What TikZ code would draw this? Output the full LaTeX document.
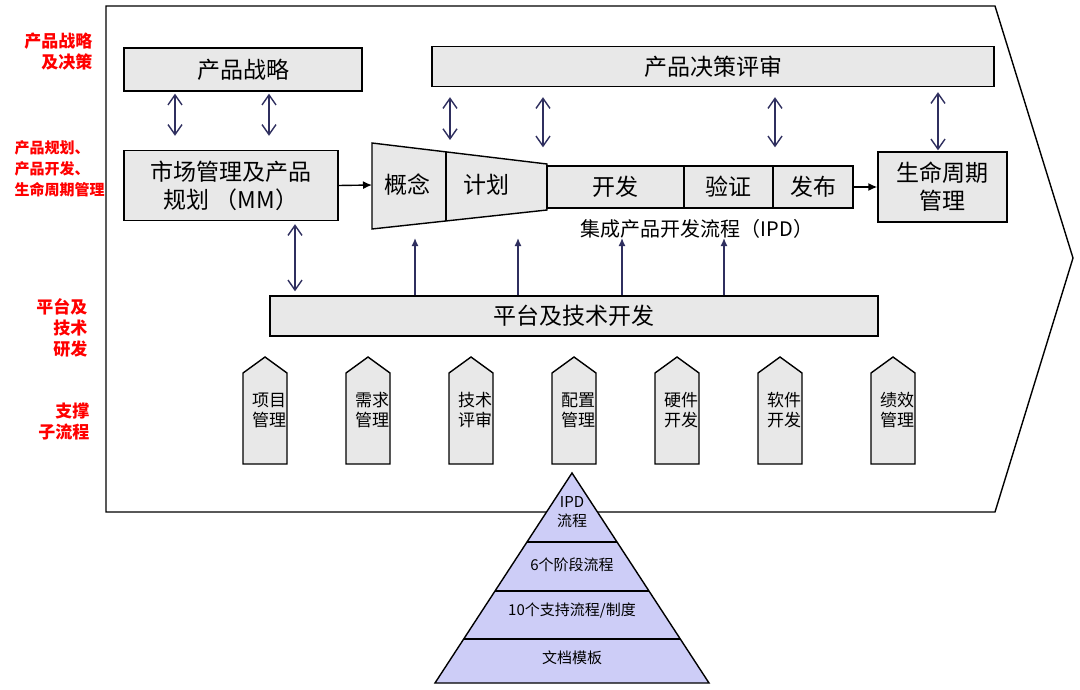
\documentclass[tikz,border=0pt]{standalone}
\usepackage{fontspec}
\setmainfont{Noto Sans CJK SC}
\usetikzlibrary{arrows.meta}
\definecolor{boxgray}{HTML}{E8E8E8}
\definecolor{arrnavy}{HTML}{2F2F5F}
\definecolor{pyrfill}{HTML}{CDCDF7}
\tikzset{
  box/.style={draw,fill=boxgray,line width=1.4pt,align=center,inner sep=0pt,font=\fontsize{23}{28}\selectfont},
  part/.style={draw,fill=boxgray,line width=1.4pt},
  lbl/.style={font=\fontsize{23}{28}\selectfont},
  dbl/.style={{Straight Barb[length=10pt,width=14pt]}-{Straight Barb[length=10pt,width=14pt]},draw=arrnavy,line width=1.4pt},
  uparr/.style={-{Latex[length=8pt,width=7pt]},draw=arrnavy,line width=1.4pt},
  blk/.style={-{Latex[length=9pt,width=8pt]},line width=1.4pt},
  redlbl/.style={text=red,font=\bfseries\fontsize{17}{21}\selectfont},
  tagtxt/.style={font=\fontsize{17}{20}\selectfont,align=center},
  pyr/.style={font=\fontsize{15}{19}\selectfont,align=center}
}

\begin{document}
\begin{tikzpicture}[x=1pt,y=-1pt]
  \useasboundingbox (0,0) rectangle (1080,690);
  \draw[line width=1.4pt,fill=white] (106,6) -- (995,6) -- (1073,258) -- (995,512) -- (106,512) -- cycle;
  % levels on the left
  \node[redlbl,anchor=east,align=right] (lvl1) at (96,52) {产品战略\\及决策};
  \node[redlbl,anchor=west,align=left,font=\bfseries\fontsize{15}{21}\selectfont] (lvl2) at (11,169) {产品规划、\\产品开发、\\生命周期管理};
  \node[redlbl,anchor=east,align=right] (lvl3) at (91,328) {平台及\\技术\\研发};
  \node[redlbl,anchor=east,align=right] (lvl4) at (93,422) {支撑\\子流程};
  % main boxes
  \node[box,minimum width=238pt,minimum height=43pt] (strat) at (243,69.5) {产品战略};
  \node[box,minimum width=562pt,minimum height=40pt] (pdcp) at (713,66.5) {产品决策评审};
  \node[box,minimum width=214pt,minimum height=70pt] (mm) at (231,185.5) {市场管理及产品\\规划 （MM）};
  \node[box,minimum width=129pt,minimum height=70pt] (lcm) at (942.5,187) {生命周期\\管理};
  \node[box,minimum width=608pt,minimum height=40pt] (plat) at (574,316) {平台及技术开发};
  % IPD funnel
  \draw[part] (372,143) -- (547,164) -- (547,210) -- (372,229) -- cycle;
  \draw[line width=1.4pt] (446,152) -- (446,221);
  \coordinate (fin) at (372,185);
  \coordinate (ftop) at (372,143);
  \node[lbl] (concept) at (407,185) {概念};
  \node[lbl] (plan) at (486,185) {计划};
  \node[box,minimum width=137pt,minimum height=42pt] (dev) at (615.5,187) {开发};
  \node[box,minimum width=89pt,minimum height=42pt] (verif) at (728.5,187) {验证};
  \node[box,minimum width=80pt,minimum height=42pt] (launch) at (813,187) {发布};
  \node[font=\fontsize{20}{24}\selectfont] (ipd) at (697,229) {集成产品开发流程（IPD）};
  \draw[blk] (mm.east) -- (fin);
  \draw[blk] (launch.east) -- (lcm.west);
  % links
  \draw[dbl,shorten <=2pt,shorten >=14pt] (strat.south -| 175,0) -- (mm.north -| 175,0);
  \draw[dbl,shorten <=2pt,shorten >=14pt] (strat.south -| 269,0) -- (mm.north -| 269,0);
  \draw[dbl,shorten <=3pt,shorten >=4pt] (mm.south -| 295,0) -- (plat.north -| 295,0);
  \draw[dbl,shorten <=10pt,shorten >=3pt] (pdcp.south -| 450,0) -- (ftop -| 450,0);
  \draw[dbl,shorten <=10pt,shorten >=18pt] (pdcp.south -| 543,0) -- (dev.north -| 543,0);
  \draw[dbl,shorten <=10pt,shorten >=18pt] (pdcp.south -| 775,0) -- (verif.north -| 775,0);
  \draw[dbl,shorten <=5pt,shorten >=1pt] (pdcp.south -| 938,0) -- (lcm.north -| 938,0);
  \foreach \x in {415,518,622,724}
    \draw[uparr] (plat.north -| \x,0) -- (\x,238);
  % supporting processes
  \foreach \x/\txt [count=\i] in {265/{项目\\管理},368/{需求\\管理},471/{技术\\评审},574/{配置\\管理},677/{硬件\\开发},780/{软件\\开发},893/{绩效\\管理}}{
    \draw[part] (\x-22,464) -- (\x-22,373) -- (\x,357) -- (\x+22,373) -- (\x+22,464) -- cycle;
    \node[tagtxt] (sub\i) at (\x+4,410) {\txt};
  }
  % pyramid
  \draw[line width=1.4pt,fill=pyrfill] (572,473) -- (709,683) -- (435,683) -- cycle;
  \draw[line width=1.4pt] (527,542) -- (617,542) (495,591) -- (649,591) (464,639) -- (680,639);
  \node[pyr] (p1) at (572,512) {IPD\\流程};
  \node[pyr] (p2) at (572,565) {6个阶段流程};
  \node[pyr] (p3) at (572,611) {10个支持流程/制度};
  \node[pyr] (p4) at (572,658) {文档模板};
\end{tikzpicture}
\end{document}
